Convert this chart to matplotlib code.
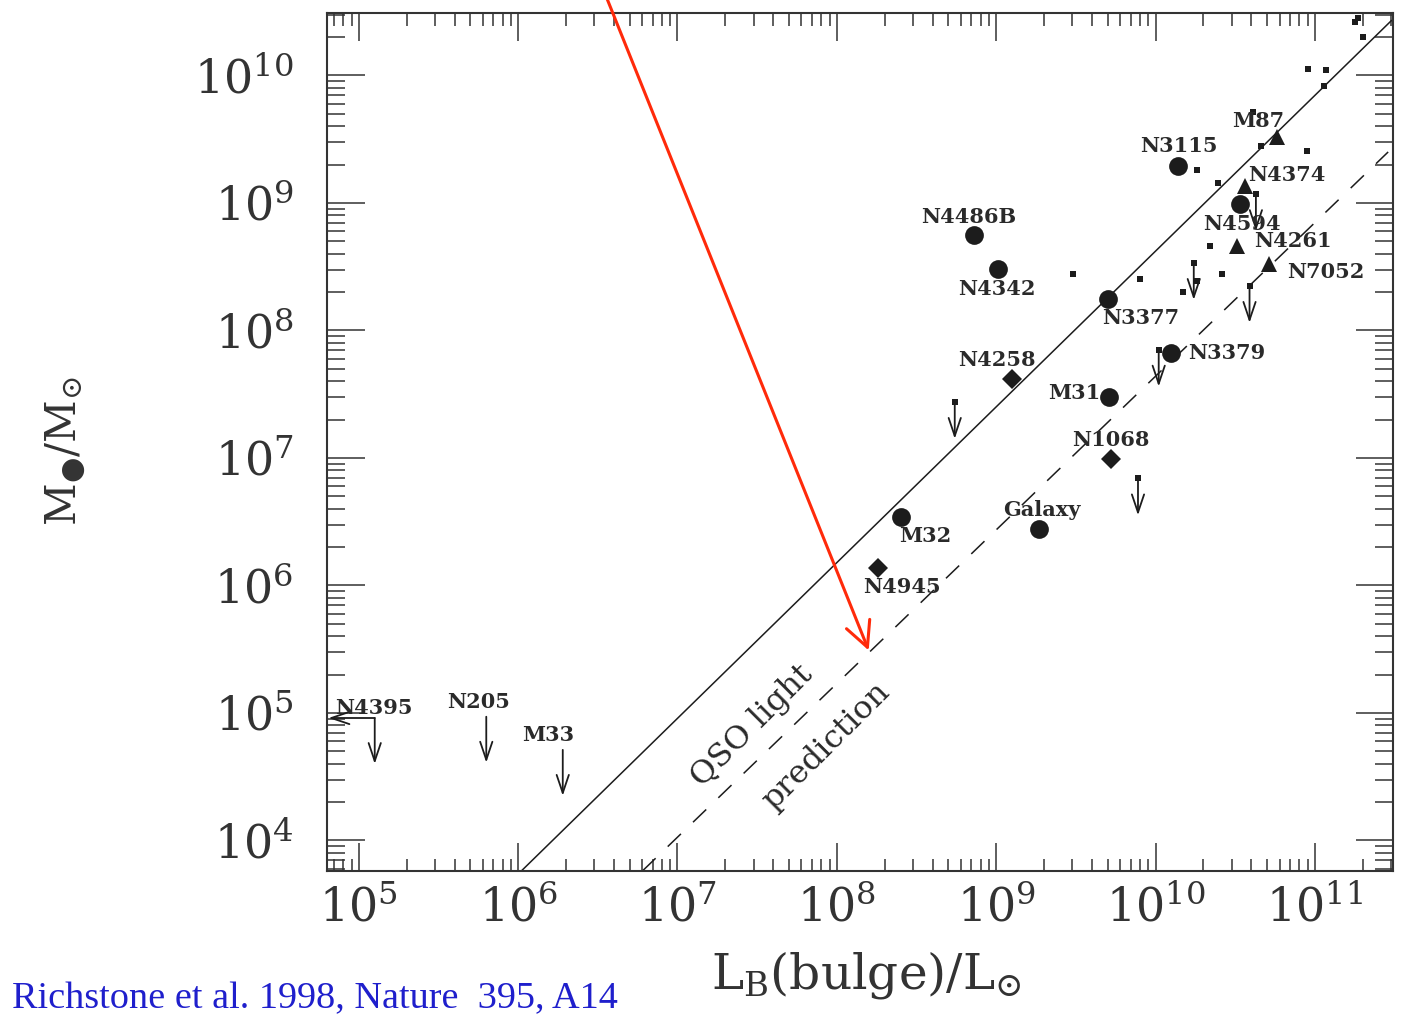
import math
import matplotlib.pyplot as plt
from matplotlib.ticker import LogLocator, FixedLocator, FuncFormatter, NullFormatter

plt.rcParams['mathtext.fontset'] = 'dejavuserif'
plt.rcParams['font.family'] = 'DejaVu Serif'

# log10 values (L in L_sun, M in M_sun)
circ_names = ['N3115', 'N4594', 'N4486B', 'N4342', 'N3377', 'N3379', 'M31', 'Galaxy', 'M32']
circ_logL = [10.14, 10.53, 8.86, 9.01, 9.70, 10.10, 9.71, 9.27, 8.40]
circ_logM = [9.29, 8.99, 8.75, 8.48, 8.25, 7.82, 7.48, 6.44, 6.54]

diam_names = ['N4258', 'N1068', 'N4945']
diam_logL = [9.10, 9.72, 8.26]
diam_logM = [7.62, 6.99, 6.14]

tri_names = ['M87', 'N4374', 'N4261', 'N7052']
tri_logL = [10.76, 10.56, 10.51, 10.71]
tri_logM = [9.52, 9.13, 8.66, 8.52]

# unlabelled small squares
sq_logL = [10.61, 10.66, 10.95, 10.26, 10.39, 10.34, 10.42, 9.90, 10.26, 10.17, 9.48,
           11.25, 11.27, 11.30, 10.96, 11.07, 11.06]
sq_logM = [9.71, 9.45, 9.41, 9.26, 9.16, 8.66, 8.44, 8.40, 8.39, 8.30, 8.44,
           10.42, 10.45, 10.30, 10.05, 10.04, 9.92]

# small squares that are upper limits
lim_logL = [10.63, 10.24, 10.59, 10.02, 8.74, 9.89]
lim_logM = [9.07, 8.53, 8.35, 7.85, 7.44, 6.84]

# local group upper limits (arrows only)
ul_names = ['N4395', 'N205', 'M33']
ul_logL = [5.10, 5.80, 6.28]
ul_logM = [4.96, 4.97, 4.71]

# the two lines
qso_logL = [6.02, 11.48]
qso_logM = [3.76, 10.43]
pred_logL = [6.78, 11.46]
pred_logM = [3.76, 9.40]

# labelled decades
x_decades = [5, 6, 7, 8, 9, 10, 11]
y_decades = [4, 5, 6, 7, 8, 9, 10]

# label offsets in pixels
circ_off = [(1, 20), (2, -20), (-5, 18), (-1, -20), (33, -19), (55, 0), (-35, 4), (3, 19), (25, -19)]
diam_off = [(-15, 19), (0, 19), (24, -19)]
tri_off = [(-18, 16), (42, 11), (56, 5), (57, -8)]
ul_off = [(-1, 10), (-8, 15), (-15, 15)]

ink = '#1c1c1c'

fig = plt.figure(figsize=(14.11, 10.23), dpi=100)
ax = fig.add_axes([0.2317, 0.1486, 0.7555, 0.8387])
ax.set_xscale('log')
ax.set_yscale('log')
ax.set_xlim(10**4.80, 10**11.49)
ax.set_ylim(10**3.76, 10**10.49)

def p(v):
    return [10**a for a in v]

ax.plot(p(qso_logL), p(qso_logM), color=ink, lw=1.1)
ax.plot(p(pred_logL), p(pred_logM), color=ink, lw=1.1, linestyle=(0, (12, 11)))

ax.plot(p(circ_logL), p(circ_logM), 'o', color=ink, ms=13.5, mew=0)
ax.plot(p(diam_logL), p(diam_logM), 'D', color=ink, ms=9.8, mew=0)
ax.plot(p(tri_logL), p(tri_logM), '^', color=ink, ms=12, mew=0)
ax.plot(p(sq_logL), p(sq_logM), 's', color=ink, ms=4.6, mew=0)
ax.plot(p(lim_logL), p(lim_logM), 's', color=ink, ms=4.6, mew=0)

arrow = dict(arrowstyle='->,head_length=0.65,head_width=0.22', lw=1.3, color=ink,
             shrinkA=0, shrinkB=0, mutation_scale=20)
for x, y in zip(lim_logL, lim_logM):
    ax.annotate('', xy=(10**x, 10**(y - 0.29)), xytext=(10**x, 10**y), arrowprops=arrow)
for x, y in zip(ul_logL, ul_logM):
    ax.annotate('', xy=(10**x, 10**(y - 0.36)), xytext=(10**x, 10**y), arrowprops=arrow)
# N4395 also has a luminosity limit
ax.annotate('', xy=(10**(ul_logL[0] - 0.29), 10**ul_logM[0]), xytext=(10**ul_logL[0], 10**ul_logM[0]),
            arrowprops=arrow)

lab = dict(textcoords='offset pixels', ha='center', va='center', fontsize=15,
           fontweight='bold', color='#2a2a2a')
for names, xs, ys, offs in [(circ_names, circ_logL, circ_logM, circ_off),
                            (diam_names, diam_logL, diam_logM, diam_off),
                            (tri_names, tri_logL, tri_logM, tri_off),
                            (ul_names, ul_logL, ul_logM, ul_off)]:
    for n, x, y, o in zip(names, xs, ys, offs):
        ax.annotate(n, (10**x, 10**y), xytext=o, **lab)

ax.text(10**7.47, 10**4.90, 'QSO light', rotation=45, ha='center', va='center',
        fontsize=23, color='#2a2a2a')
ax.text(10**7.93, 10**4.74, 'prediction', rotation=45, ha='center', va='center',
        fontsize=23, color='#2a2a2a')

# ticks
ax.xaxis.set_major_locator(FixedLocator(p(x_decades)))
ax.yaxis.set_major_locator(FixedLocator(p(y_decades)))
ax.xaxis.set_minor_locator(LogLocator(base=10, subs=range(2, 10), numticks=50))
ax.yaxis.set_minor_locator(LogLocator(base=10, subs=range(2, 10), numticks=50))
fmt = FuncFormatter(lambda v, pos: r'$10^{%d}$' % round(math.log10(v)))
ax.xaxis.set_major_formatter(fmt)
ax.yaxis.set_major_formatter(fmt)
ax.xaxis.set_minor_formatter(NullFormatter())
ax.yaxis.set_minor_formatter(NullFormatter())
ax.tick_params(which='both', direction='in', top=True, right=True, color='#333333', width=1.1)
ax.tick_params(axis='x', which='major', length=20, pad=11, labelsize=33, labelcolor='#333333')
ax.tick_params(axis='x', which='minor', length=9)
ax.tick_params(axis='y', which='major', length=27, pad=24, labelsize=33, labelcolor='#333333')
ax.tick_params(axis='y', which='minor', length=13)
for s in ax.spines.values():
    s.set_linewidth(1.5)
    s.set_color('#333333')

fig.text(65 / 1411, 1 - 451 / 1023, r'$\mathrm{M}_{●}/\mathrm{M}_{\odot}$', rotation=90,
         ha='center', va='center', fontsize=30, color='#333333')
fig.text(866 / 1411, 1 - 975 / 1023, r'$\mathrm{L}_{\mathrm{B}}(\mathrm{bulge})/\mathrm{L}_{\odot}$',
         ha='center', va='center', fontsize=35, color='#333333')

# red arrow pointing at the prediction line
ax.annotate('', xy=(10**8.20, 10**5.49), xycoords='data', xytext=(0.430, 1.002),
            textcoords='figure fraction', annotation_clip=False,
            arrowprops=dict(arrowstyle='->,head_length=0.9,head_width=0.45', color='#ff2a0a',
                            lw=2.2, shrinkA=0, shrinkB=0, mutation_scale=20))

fig.text(12 / 1411, 1 - 1008 / 1023, 'Richstone et al. 1998, Nature  395, A14', ha='left',
         va='baseline', fontsize=27.5, family='Liberation Serif', color='#1f1fcc')

fig.savefig('out.png', dpi=100)
